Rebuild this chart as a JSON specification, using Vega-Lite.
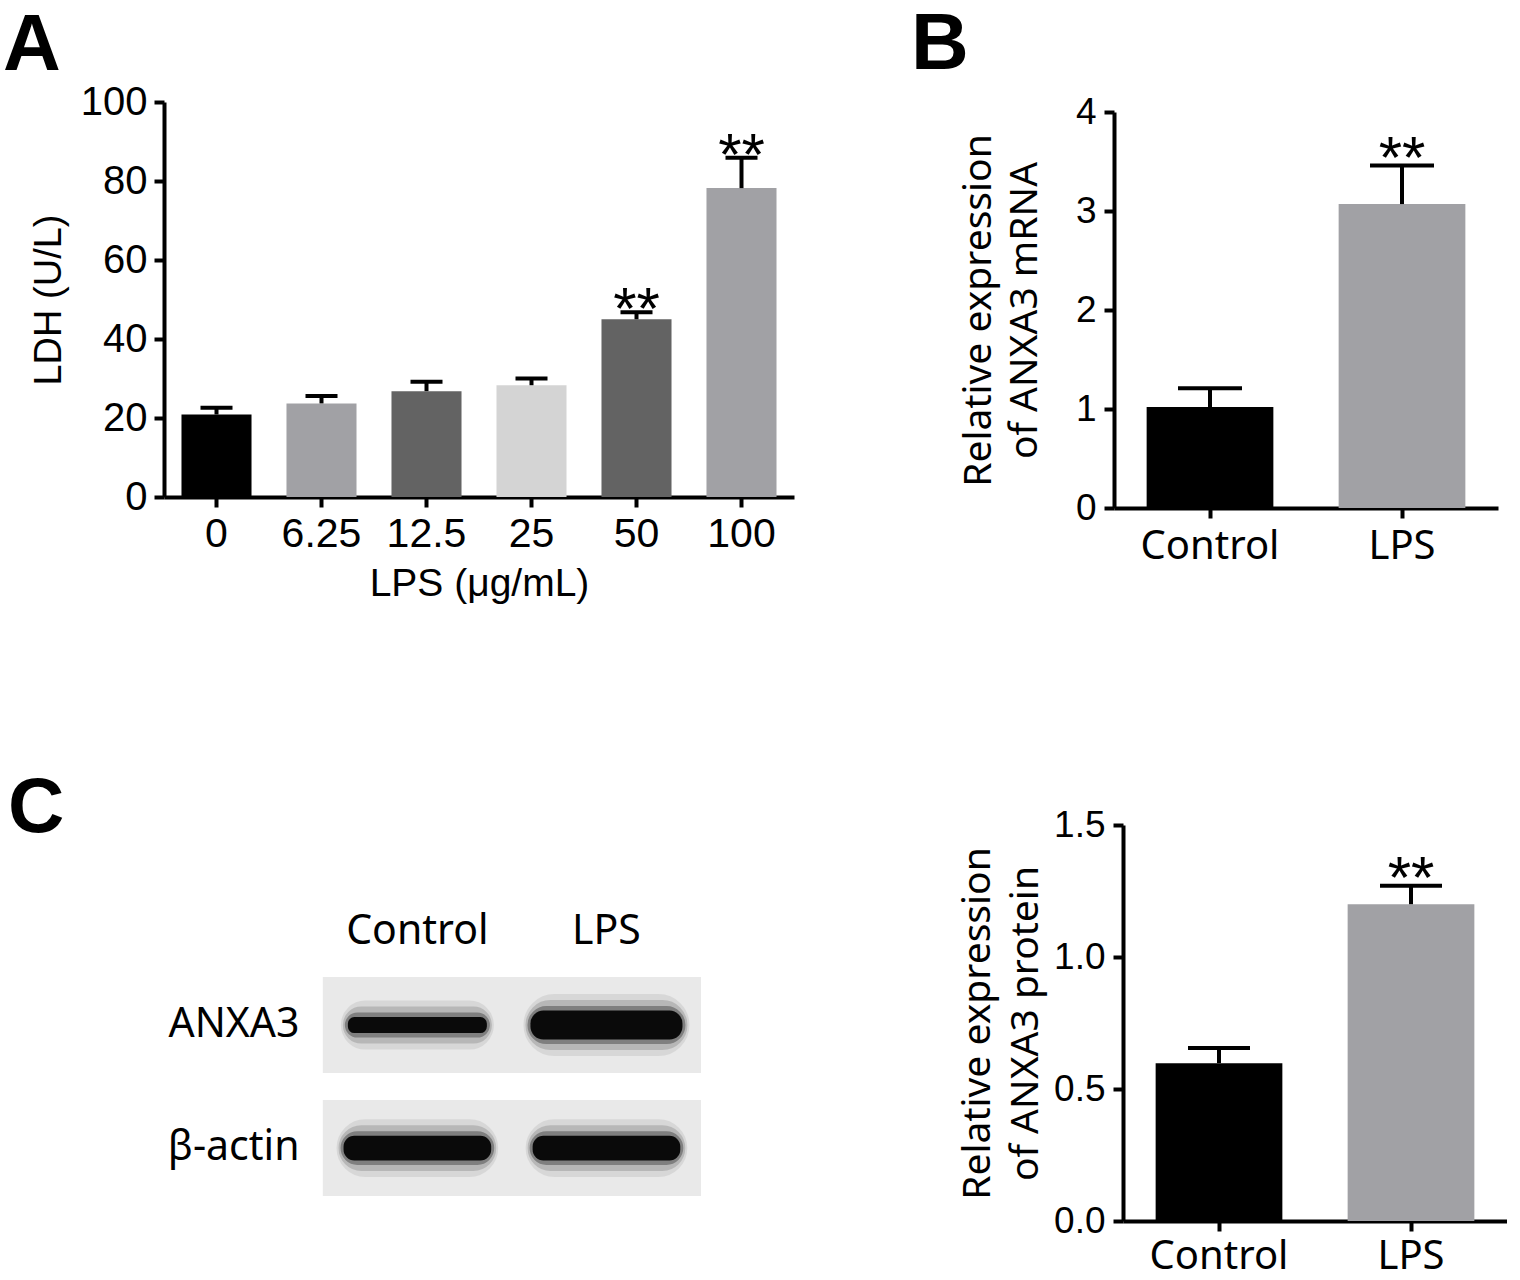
{
  "$schema": "https://vega.github.io/schema/vega-lite/v6.json",
  "background": "white",
  "padding": {"left": 3, "top": 5, "right": 0, "bottom": 0},
  "columns": 2,
  "spacing": {"row": 317, "column": 320},
  "bounds": "flush",
  "align": "each",
  "concat": [
    {
      "width": 630,
      "height": 395,
      "title": {"text": "A", "anchor": "start", "frame": "group", "orient": "top", "baseline": "alphabetic", "font": "Liberation Sans", "fontSize": 80, "fontWeight": "bold", "color": "black", "dx": -161, "offset": -68},
      "data": {"values": [
        {"dose": "0", "mean": 20.9, "upper": 22.6, "sig": ""},
        {"dose": "6.25", "mean": 23.7, "upper": 25.6, "sig": ""},
        {"dose": "12.5", "mean": 26.8, "upper": 29.2, "sig": ""},
        {"dose": "25", "mean": 28.3, "upper": 30.0, "sig": ""},
        {"dose": "50", "mean": 45.0, "upper": 46.8, "sig": "**"},
        {"dose": "100", "mean": 78.2, "upper": 85.9, "sig": "**"}
      ]},
      "encoding": {
        "x": {"field": "dose", "type": "nominal", "sort": null, "title": "LPS (μg/mL)",
          "scale": {"paddingInner": 0.333, "paddingOuter": 0.1665},
          "axis": {"labelAngle": 0, "labelFontSize": 41, "labelPadding": 7, "titleFontSize": 39, "titlePadding": 10}}
      },
      "layer": [
        {
          "mark": {"type": "bar"},
          "encoding": {
            "y": {"field": "mean", "type": "quantitative", "title": "LDH (U/L)",
              "scale": {"domain": [0, 100], "nice": false},
              "axis": {"values": [0, 20, 40, 60, 80, 100], "format": "d", "labelFontSize": 40, "labelPadding": 7, "titleFontSize": 38, "titlePadding": 12}},
            "color": {"field": "dose", "type": "nominal", "legend": null,
              "scale": {"domain": ["0", "6.25", "12.5", "25", "50", "100"], "range": ["#000000", "#a1a1a5", "#636363", "#d4d4d4", "#636363", "#a1a1a5"]}}
          }
        },
        {
          "mark": {"type": "rule", "strokeWidth": 4, "color": "black"},
          "encoding": {"y": {"field": "mean", "type": "quantitative", "title": "LDH (U/L)"}, "y2": {"field": "upper"}}
        },
        {
          "mark": {"type": "tick", "orient": "horizontal", "size": 32, "thickness": 4, "color": "black", "opacity": 1},
          "encoding": {"y": {"field": "upper", "type": "quantitative", "title": "LDH (U/L)"}}
        },
        {
          "mark": {"type": "text", "font": "Liberation Sans", "fontSize": 60, "baseline": "alphabetic", "dy": 17, "color": "black"},
          "encoding": {"y": {"field": "upper", "type": "quantitative", "title": "LDH (U/L)"}, "text": {"field": "sig"}}
        }
      ]
    },
    {
      "width": 384,
      "height": 406,
      "title": {"text": "B", "anchor": "start", "frame": "group", "orient": "top", "baseline": "alphabetic", "font": "Liberation Sans", "fontSize": 80, "fontWeight": "bold", "color": "black", "dx": -203, "offset": -56},
      "data": {"values": [
        {"group": "Control", "mean": 1.02, "upper": 1.21, "sig": ""},
        {"group": "LPS", "mean": 3.07, "upper": 3.46, "sig": "**"}
      ]},
      "encoding": {
        "x": {"field": "group", "type": "nominal", "sort": null, "title": null,
          "scale": {"paddingInner": 0.34, "paddingOuter": 0.17},
          "axis": {"labelAngle": 0, "labelFont": "Noto Sans", "labelFontSize": 40, "labelPadding": 8}}
      },
      "layer": [
        {
          "mark": {"type": "bar"},
          "encoding": {
            "y": {"field": "mean", "type": "quantitative", "title": ["Relative expression", "of ANXA3 mRNA"],
              "scale": {"domain": [0, 4], "nice": false, "range": [406, 10]},
              "axis": {"values": [0, 1, 2, 3, 4], "format": "d", "labelFontSize": 37, "labelPadding": 8, "titleFont": "Noto Sans", "titleFontSize": 39, "titleLineHeight": 46, "titlePadding": 31}},
            "color": {"field": "group", "type": "nominal", "legend": null,
              "scale": {"domain": ["Control", "LPS"], "range": ["#000000", "#a1a1a5"]}}
          }
        },
        {
          "mark": {"type": "rule", "strokeWidth": 4, "color": "black"},
          "encoding": {"y": {"field": "mean", "type": "quantitative", "title": ["Relative expression", "of ANXA3 mRNA"]}, "y2": {"field": "upper"}}
        },
        {
          "mark": {"type": "tick", "orient": "horizontal", "size": 64, "thickness": 4, "color": "black", "opacity": 1},
          "encoding": {"y": {"field": "upper", "type": "quantitative", "title": ["Relative expression", "of ANXA3 mRNA"]}}
        },
        {
          "mark": {"type": "text", "font": "Liberation Sans", "fontSize": 60, "baseline": "alphabetic", "dy": 13, "color": "black"},
          "encoding": {"y": {"field": "upper", "type": "quantitative", "title": ["Relative expression", "of ANXA3 mRNA"]}, "text": {"field": "sig"}}
        }
      ]
    },
    {
      "width": 537,
      "height": 396,
      "title": {"text": "C", "anchor": "start", "frame": "group", "orient": "top", "baseline": "alphabetic", "font": "Liberation Sans", "fontSize": 78, "fontWeight": "bold", "color": "black", "dx": -156, "offset": -85},
      "data": {"values": [
        {"protein": "ANXA3", "lane": "Control", "signal": 0.6},
        {"protein": "ANXA3", "lane": "LPS", "signal": 1.2},
        {"protein": "β-actin", "lane": "Control", "signal": 1.0},
        {"protein": "β-actin", "lane": "LPS", "signal": 1.0}
      ]},
      "encoding": {
        "x": {"field": "lane", "type": "nominal", "sort": ["Control", "LPS"], "title": null,
          "scale": {"paddingInner": 0, "paddingOuter": 0.42, "align": 1},
          "axis": {"orient": "top", "offset": -130, "domain": false, "ticks": false, "labelAngle": 0, "labelFont": "Noto Sans", "labelFontSize": 41, "labelPadding": 12, "labelBaseline": "alphabetic"}},
        "y": {"field": "protein", "type": "nominal", "sort": ["ANXA3", "β-actin"], "title": null,
          "scale": {"paddingInner": 0.22, "paddingOuter": 0.72, "align": 0.859},
          "axis": {"offset": -159, "domain": false, "ticks": false, "labelFont": "Noto Sans", "labelFontSize": 41, "labelPadding": 24}}
      },
      "layer": [
        {"mark": {"type": "rect", "color": "#e9e9e9"}},
        {
          "mark": {"type": "tick", "orient": "horizontal", "size": 140, "thickness": 36, "color": "#000000", "stroke": "#000000", "opacity": 0.07, "strokeJoin": "round", "cornerRadius": 18},
          "encoding": {"strokeWidth": {"field": "signal", "type": "quantitative", "legend": null, "scale": {"domain": [0, 1.2], "range": [0, 26]}}}
        },
        {
          "mark": {"type": "tick", "orient": "horizontal", "size": 136, "thickness": 24, "color": "#000000", "stroke": "#000000", "opacity": 0.14, "strokeJoin": "round", "cornerRadius": 12},
          "encoding": {"strokeWidth": {"field": "signal", "type": "quantitative", "legend": null, "scale": {"domain": [0, 1.2], "range": [0, 26]}}}
        },
        {
          "mark": {"type": "tick", "orient": "horizontal", "size": 132, "thickness": 12, "color": "#000000", "stroke": "#000000", "opacity": 0.3, "strokeJoin": "round", "cornerRadius": 6},
          "encoding": {"strokeWidth": {"field": "signal", "type": "quantitative", "legend": null, "scale": {"domain": [0, 1.2], "range": [0, 26]}}}
        },
        {
          "mark": {"type": "tick", "orient": "horizontal", "size": 126, "thickness": 3, "color": "#0a0a0a", "stroke": "#0a0a0a", "opacity": 1, "strokeJoin": "round"},
          "encoding": {"strokeWidth": {"field": "signal", "type": "quantitative", "legend": null, "scale": {"domain": [0, 1.2], "range": [0, 26]}}}
        }
      ]
    },
    {
      "width": 393,
      "height": 396,
      "data": {"values": [
        {"group": "Control", "mean": 0.598, "upper": 0.655, "sig": ""},
        {"group": "LPS", "mean": 1.2, "upper": 1.27, "sig": "**"}
      ]},
      "encoding": {
        "x": {"field": "group", "type": "nominal", "sort": null, "title": null,
          "scale": {"paddingInner": 0.34, "paddingOuter": 0.17, "range": [9, 393]},
          "axis": {"labelAngle": 0, "labelFont": "Noto Sans", "labelFontSize": 40, "labelPadding": 5}}
      },
      "layer": [
        {
          "mark": {"type": "bar"},
          "encoding": {
            "y": {"field": "mean", "type": "quantitative", "title": ["Relative expression", "of ANXA3 protein"],
              "scale": {"domain": [0, 1.5], "nice": false},
              "axis": {"values": [0, 0.5, 1, 1.5], "format": ".1f", "offset": -9, "labelFontSize": 37, "labelPadding": 8, "titleFont": "Noto Sans", "titleFontSize": 39, "titleLineHeight": 48, "titlePadding": 8}},
            "color": {"field": "group", "type": "nominal", "legend": null,
              "scale": {"domain": ["Control", "LPS"], "range": ["#000000", "#a1a1a5"]}}
          }
        },
        {
          "mark": {"type": "rule", "strokeWidth": 4, "color": "black"},
          "encoding": {"y": {"field": "mean", "type": "quantitative", "title": ["Relative expression", "of ANXA3 protein"]}, "y2": {"field": "upper"}}
        },
        {
          "mark": {"type": "tick", "orient": "horizontal", "size": 62, "thickness": 4, "color": "black", "opacity": 1},
          "encoding": {"y": {"field": "upper", "type": "quantitative", "title": ["Relative expression", "of ANXA3 protein"]}}
        },
        {
          "mark": {"type": "text", "font": "Liberation Sans", "fontSize": 60, "baseline": "alphabetic", "dy": 12, "color": "black"},
          "encoding": {"y": {"field": "upper", "type": "quantitative", "title": ["Relative expression", "of ANXA3 protein"]}, "text": {"field": "sig"}}
        }
      ]
    }
  ],
  "config": {
    "view": {"stroke": null},
    "axis": {"domainColor": "black", "domainWidth": 4, "tickColor": "black", "tickWidth": 4, "tickSize": 10, "ticks": true, "labelColor": "black", "titleColor": "black", "grid": false, "labelFont": "Liberation Sans", "titleFont": "Liberation Sans", "titleFontWeight": "normal", "labelOverlap": false, "labelFlush": false, "labelBound": false}
  }
}
